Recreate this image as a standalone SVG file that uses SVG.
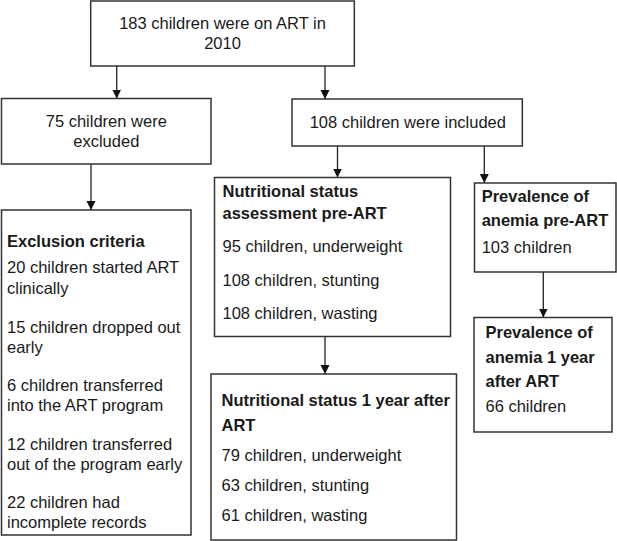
<svg xmlns="http://www.w3.org/2000/svg" width="617" height="541" viewBox="0 0 617 541">
<style>
.box{fill:#fff;stroke:#333;stroke-width:1.5}
.t{font-family:"Liberation Sans",Arial,sans-serif;font-size:16.5px;fill:#1a1a1a}
.b{font-weight:bold}
.c{text-anchor:middle}
.ln{stroke:#222;stroke-width:1.3;fill:none;marker-end:url(#ah)}
</style>
<defs>
<marker id="ah" markerUnits="userSpaceOnUse" markerWidth="10" markerHeight="10" refX="9" refY="4.5" orient="auto">
<path d="M0,0 L9,4.5 L0,9 Z" fill="#111"/>
</marker>
</defs>
<rect width="617" height="541" fill="#fff"/>
<g id="connectors">
<line class="ln" x1="116.7" y1="66" x2="116.7" y2="98.5"/>
<line class="ln" x1="325" y1="66" x2="325" y2="99"/>
<line class="ln" x1="91" y1="164" x2="91" y2="210"/>
<line class="ln" x1="337.5" y1="146" x2="337.5" y2="177.5"/>
<line class="ln" x1="484.3" y1="146" x2="484.3" y2="183"/>
<line class="ln" x1="325" y1="336.5" x2="325" y2="374"/>
<line class="ln" x1="543.3" y1="272" x2="543.3" y2="317.5"/>
</g>
<g id="n_total">
<rect class="box" x="90.7" y="1" width="263.6" height="65"/>
<text class="t c" x="222.5" y="28.5">183 children were on ART in</text>
<text class="t c" x="222.5" y="48.5">2010</text>
</g>
<g id="n_excluded">
<rect class="box" x="1.5" y="98.5" width="209.5" height="65.5"/>
<text class="t c" x="106.3" y="126.7">75 children were</text>
<text class="t c" x="106.3" y="146.7">excluded</text>
</g>
<g id="n_included">
<rect class="box" x="292" y="99" width="230.3" height="47"/>
<text class="t c" x="407.8" y="128">108 children were included</text>
</g>
<g id="n_criteria">
<rect class="box" x="1.5" y="210" width="189.5" height="325"/>
<text class="t b" x="7" y="246.5">Exclusion criteria</text>
<text class="t" x="7" y="273">20 children started ART</text>
<text class="t" x="7" y="294">clinically</text>
<text class="t" x="7" y="332.5">15 children dropped out</text>
<text class="t" x="7" y="352.5">early</text>
<text class="t" x="7" y="391">6 children transferred</text>
<text class="t" x="7" y="411">into the ART program</text>
<text class="t" x="7" y="449.5">12 children transferred</text>
<text class="t" x="7" y="469.5">out of the program early</text>
<text class="t" x="7" y="508">22 children had</text>
<text class="t" x="7" y="528">incomplete records</text>
</g>
<g id="n_nut_pre">
<rect class="box" x="214.5" y="177.5" width="236" height="159"/>
<text class="t b" x="222.5" y="196.7">Nutritional status</text>
<text class="t b" x="222.5" y="219">assessment pre-ART</text>
<text class="t" x="222.5" y="252.3">95 children, underweight</text>
<text class="t" x="222.5" y="285.7">108 children, stunting</text>
<text class="t" x="222.5" y="319">108 children, wasting</text>
</g>
<g id="n_nut_post">
<rect class="box" x="211" y="374" width="245.5" height="166"/>
<text class="t b" x="221.5" y="406">Nutritional status 1 year after</text>
<text class="t b" x="221.5" y="431">ART</text>
<text class="t" x="221.5" y="460.7">79 children, underweight</text>
<text class="t" x="221.5" y="490.7">63 children, stunting</text>
<text class="t" x="221.5" y="520.7">61 children, wasting</text>
</g>
<g id="n_anemia_pre">
<rect class="box" x="474.5" y="183" width="141.5" height="89"/>
<text class="t b" x="481.7" y="201.7">Prevalence of</text>
<text class="t b" x="481.7" y="225.7">anemia pre-ART</text>
<text class="t" x="481.7" y="253.3">103 children</text>
</g>
<g id="n_anemia_post">
<rect class="box" x="474" y="317.5" width="138" height="114.5"/>
<text class="t b" x="485.5" y="337.7">Prevalence of</text>
<text class="t b" x="485.5" y="363">anemia 1 year</text>
<text class="t b" x="485.5" y="386.7">after ART</text>
<text class="t" x="485.5" y="411.7">66 children</text>
</g>
</svg>
